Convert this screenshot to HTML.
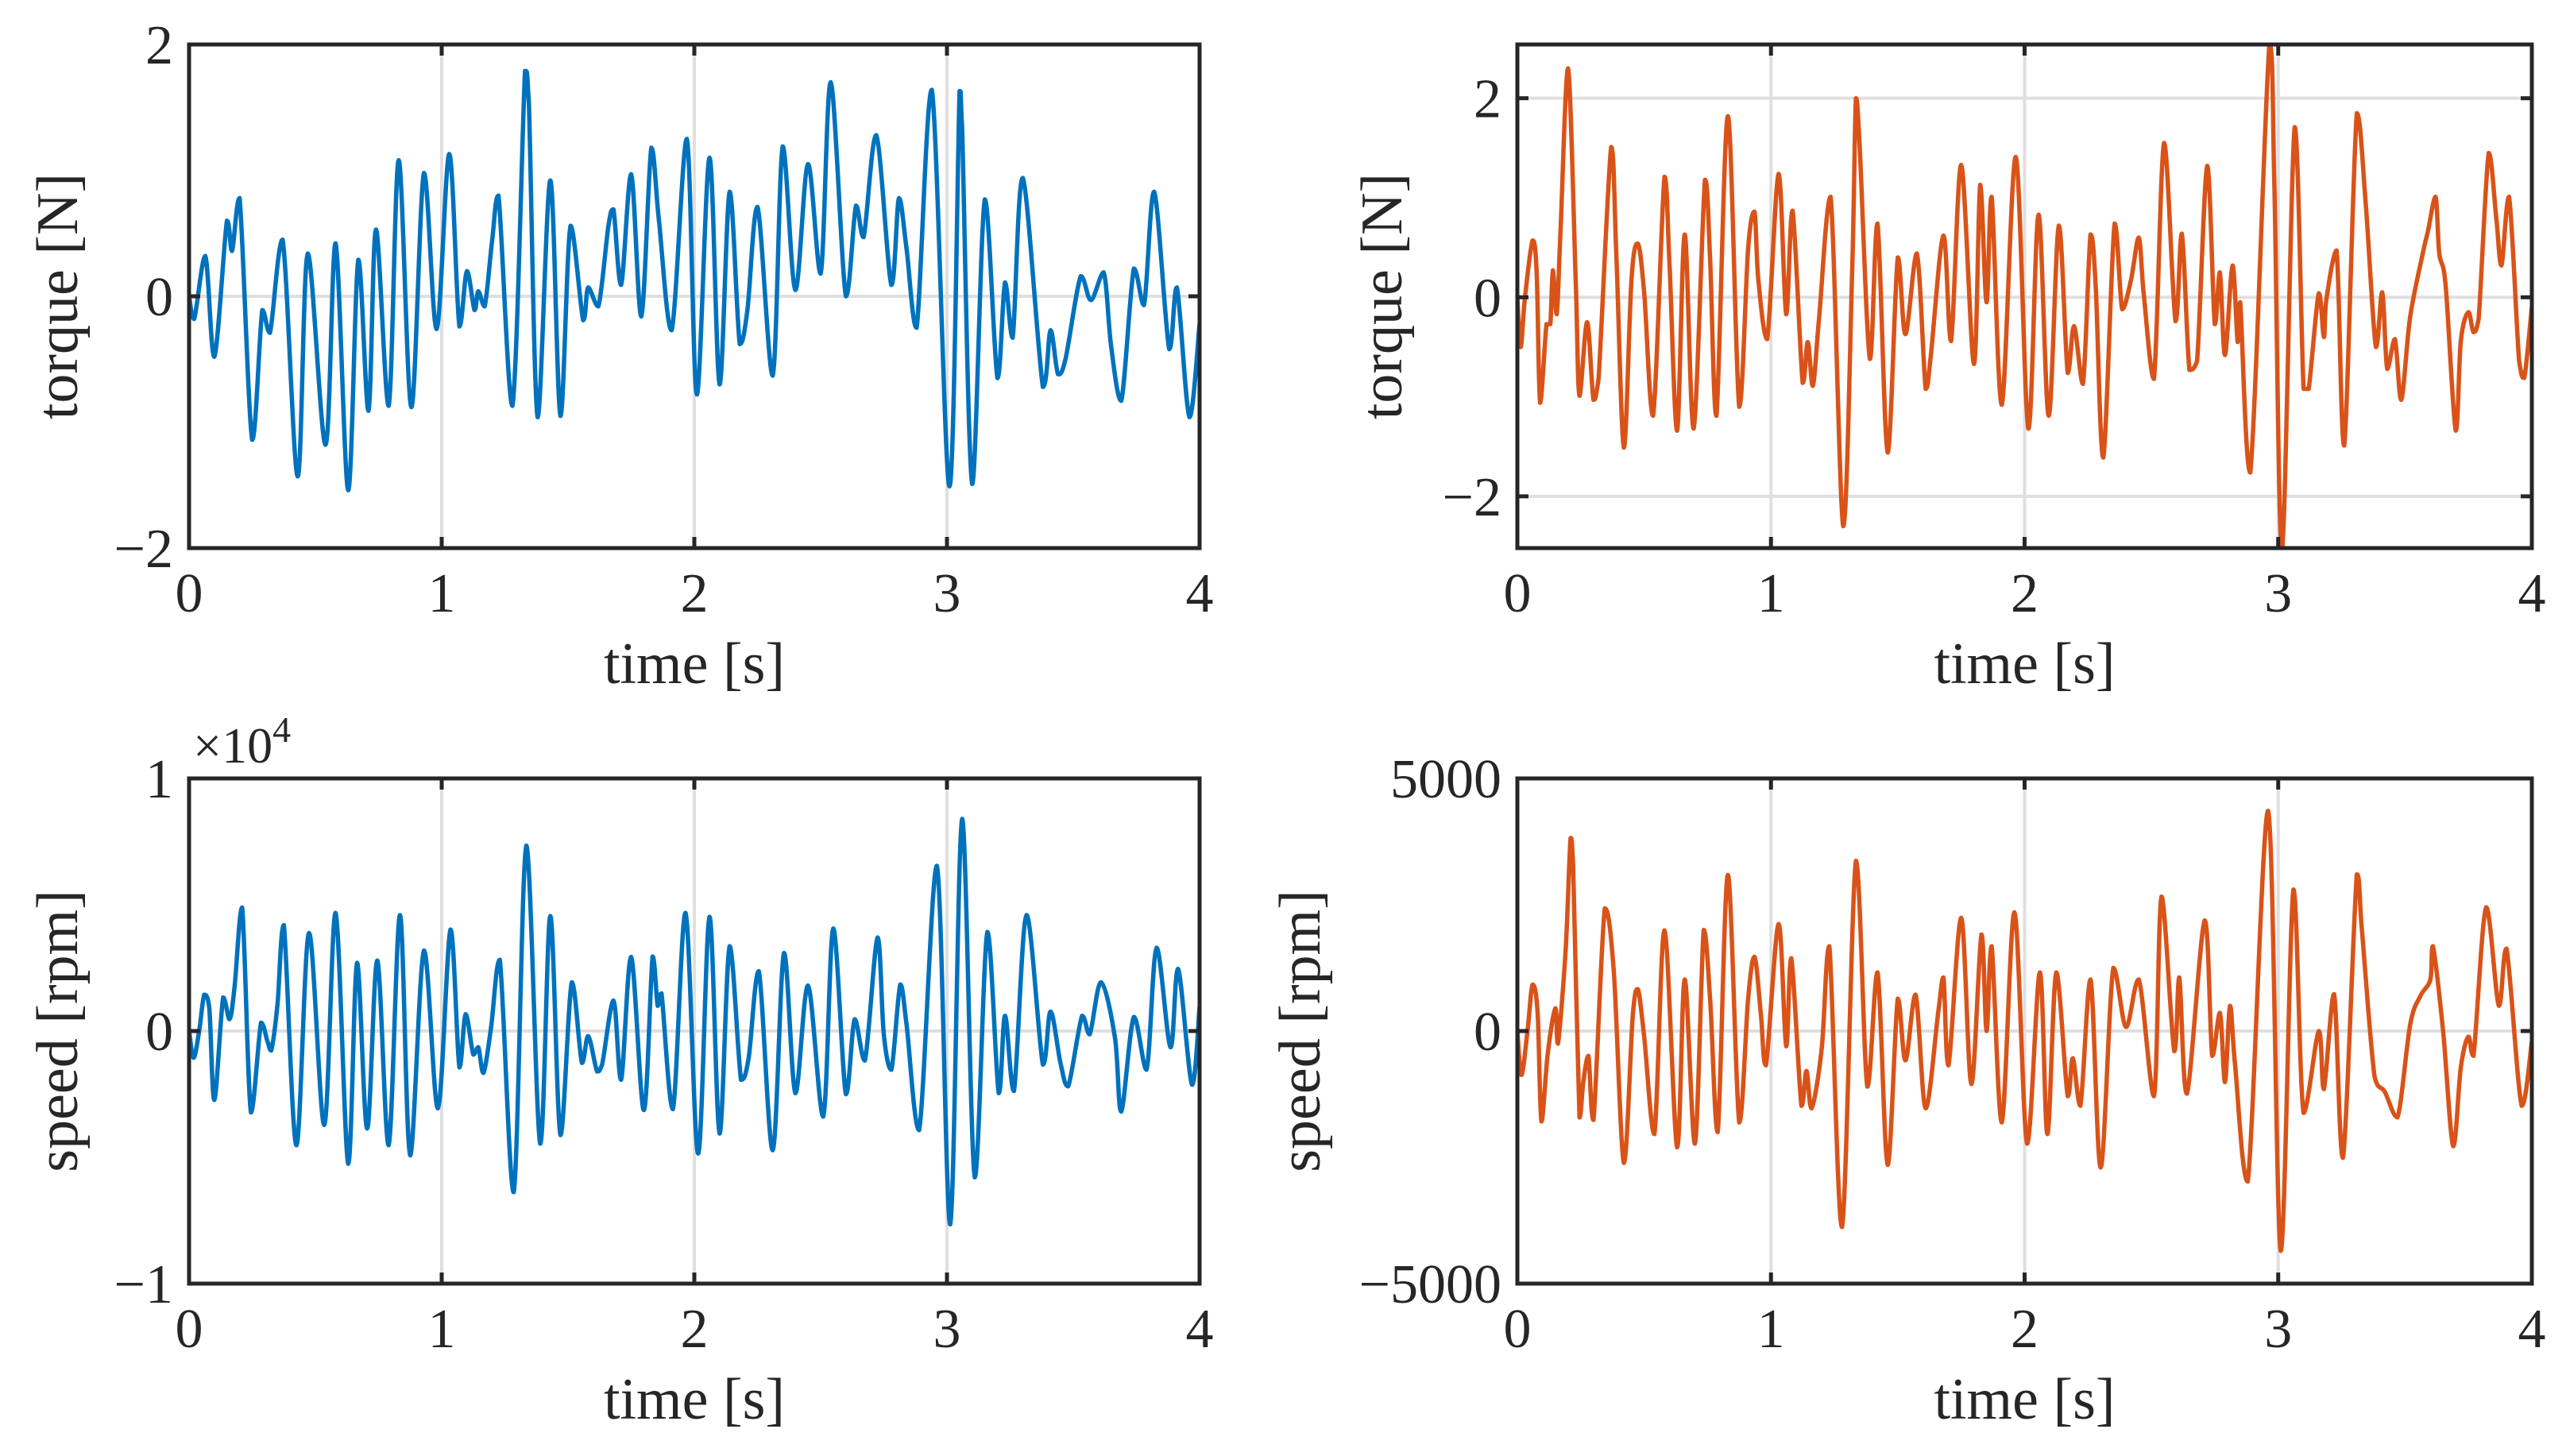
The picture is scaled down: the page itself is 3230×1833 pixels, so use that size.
<!DOCTYPE html>
<html><head><meta charset="utf-8"><style>
html,body{margin:0;padding:0;background:#fff;}
svg{display:block;font-family:"Liberation Serif",serif;}
</style></head><body>
<svg id="fig" width="3230" height="1833" viewBox="0 0 3230 1833" xmlns="http://www.w3.org/2000/svg"></svg>
<script>
// ---- data ----
const tlT=[0,.02,.064,.10,.15,.17,.20,.25,.29,.32,.37,.43,.47,.54,.58,.63,.67,.71,.74,.79,.83,.88,.93,.98,1.03,1.07,1.10,1.13,1.145,1.17,1.20,1.225,1.28,1.33,1.345,1.38,1.43,1.47,1.51,1.56,1.58,1.62,1.66,1.68,1.71,1.75,1.79,1.83,1.86,1.91,1.97,2.01,2.06,2.10,2.14,2.18,2.21,2.25,2.31,2.35,2.40,2.45,2.50,2.54,2.60,2.64,2.67,2.72,2.78,2.81,2.84,2.88,2.94,3.01,3.05,3.06,3.10,3.15,3.20,3.23,3.26,3.30,3.38,3.41,3.44,3.47,3.53,3.57,3.62,3.65,3.69,3.74,3.78,3.82,3.88,3.91,3.96,4.0];
const tlV=[0,-.18,.32,-.48,.6,.36,.78,-1.14,-.11,-.29,.45,-1.43,.34,-1.18,.42,-1.54,.29,-.91,.53,-.87,1.08,-.88,.98,-.26,1.13,-.24,.2,-.11,.04,-.08,.45,.8,-.87,1.79,1.54,-.96,.92,-.95,.56,-.19,.07,-.08,.56,.69,.09,.97,-.16,1.18,.6,-.27,1.25,-.78,1.1,-.7,.83,-.38,-.11,.71,-.63,1.19,.05,1.05,.18,1.70,0,.72,.47,1.28,.09,.78,.38,-.25,1.64,-1.51,1.63,1.34,-1.49,.77,-.65,.11,-.33,.94,-.72,-.27,-.62,-.49,.16,-.03,.19,-.4,-.83,.22,-.07,.83,-.42,.07,-.96,-.22];
const trT=[0,.013,.03,.06,.076,.09,.115,.13,.14,.155,.17,.2,.23,.245,.275,.30,.32,.37,.39,.42,.45,.475,.50,.535,.58,.60,.63,.66,.695,.74,.76,.785,.83,.875,.91,.935,.95,.985,1.03,1.06,1.085,1.125,1.145,1.165,1.19,1.235,1.285,1.32,1.335,1.35,1.39,1.42,1.46,1.50,1.53,1.575,1.61,1.63,1.68,1.71,1.75,1.80,1.825,1.85,1.87,1.91,1.965,2.015,2.055,2.095,2.135,2.17,2.195,2.23,2.26,2.28,2.31,2.355,2.385,2.42,2.45,2.47,2.51,2.55,2.595,2.62,2.65,2.68,2.72,2.75,2.77,2.79,2.82,2.84,2.85,2.89,2.965,2.985,3.015,3.065,3.10,3.12,3.16,3.18,3.19,3.23,3.26,3.31,3.345,3.385,3.41,3.43,3.46,3.485,3.52,3.57,3.59,3.62,3.635,3.66,3.70,3.72,3.75,3.77,3.79,3.83,3.86,3.88,3.91,3.95,3.97,4.0];
const trV=[0,-.5,0,.57,.25,-1.06,-.27,-.27,.27,-.17,.66,2.3,.18,-.99,-.25,-1.03,-.82,1.51,.45,-1.51,.18,.54,.05,-1.19,1.21,.32,-1.34,.63,-1.32,1.18,.39,-1.19,1.82,-1.10,.49,.86,.18,-.42,1.24,-.17,.87,-.86,-.45,-.89,-.2,1.01,-2.30,.25,2.0,1.5,-.62,.74,-1.56,.4,-.37,.44,-.92,-.59,.62,-.44,1.33,-.67,1.13,-.05,1.01,-1.08,1.41,-1.32,.83,-1.19,.72,-.76,-.29,-.87,.63,.13,-1.61,.74,-.12,.18,.6,.03,-.82,1.55,-.24,.64,-.73,-.64,1.32,-.27,.25,-.58,.32,-.45,-.05,-1.76,2.54,1.09,-2.54,1.71,-.92,-.92,.04,-.4,-.02,.47,-1.49,1.85,.94,-.5,.05,-.72,-.42,-1.03,-.2,.44,.66,1.01,.44,.12,-1.34,-.44,-.15,-.35,-.22,1.45,.79,.32,1.01,-.64,-.81,-.1];
const blT=[0,.018,.04,.06,.08,.10,.135,.16,.18,.21,.245,.285,.31,.325,.35,.375,.425,.475,.535,.58,.63,.665,.705,.745,.79,.835,.875,.93,.985,1.035,1.07,1.095,1.125,1.145,1.165,1.195,1.23,1.285,1.335,1.39,1.43,1.47,1.515,1.555,1.58,1.615,1.635,1.68,1.71,1.75,1.80,1.835,1.855,1.87,1.915,1.965,2.015,2.06,2.10,2.14,2.185,2.215,2.255,2.31,2.355,2.40,2.45,2.51,2.55,2.60,2.635,2.675,2.725,2.75,2.78,2.815,2.84,2.89,2.96,3.013,3.06,3.11,3.16,3.205,3.23,3.265,3.315,3.38,3.41,3.45,3.48,3.535,3.565,3.61,3.665,3.69,3.74,3.79,3.83,3.885,3.915,3.97,4.0];
const blV=[0,-1060,0,1440,930,-2730,1330,470,1730,4890,-3220,330,-400,-770,1060,4190,-4520,3880,-3720,4680,-5250,2700,-3860,2790,-4520,4590,-4920,3190,-3060,4020,-1440,670,-930,-640,-1660,110,2820,-6380,7340,-4460,4550,-4120,1930,-1260,-200,-1600,-1330,1200,-1930,2930,-3130,2950,1000,1490,-3090,4680,-4850,4520,-4060,3360,-1930,-1060,2370,-4720,3090,-2460,1800,-3390,4060,-2500,470,-1170,3700,-130,-1530,1840,270,-3920,6540,-7650,8400,-5790,3920,-2460,600,-2370,4590,-1330,770,-1300,-2190,600,-130,1930,-270,-3190,560,-1530,3300,-640,2460,-2130,960];
const brT=[0,.016,.04,.06,.08,.095,.12,.15,.16,.19,.21,.22,.245,.26,.28,.30,.345,.38,.42,.455,.475,.50,.54,.58,.63,.66,.70,.735,.76,.79,.83,.875,.91,.935,.96,.98,1.03,1.06,1.08,1.12,1.14,1.16,1.20,1.23,1.28,1.335,1.38,1.42,1.46,1.50,1.53,1.57,1.61,1.66,1.68,1.70,1.75,1.79,1.83,1.85,1.87,1.91,1.96,2.01,2.06,2.09,2.125,2.17,2.19,2.22,2.26,2.30,2.35,2.40,2.45,2.51,2.54,2.59,2.61,2.64,2.71,2.74,2.77,2.79,2.81,2.83,2.88,2.96,3.01,3.06,3.10,3.16,3.18,3.22,3.255,3.31,3.33,3.38,3.42,3.47,3.52,3.56,3.60,3.61,3.65,3.69,3.72,3.75,3.77,3.82,3.87,3.90,3.96,4.0];
const brV=[0,-870,0,920,360,-1790,-440,450,-250,1580,3820,3280,-1710,-1010,-490,-1760,2430,1200,-2610,310,830,-110,-2040,1990,-2300,1020,-2230,2000,640,-2000,3090,-1810,640,1470,340,-680,2120,-300,1440,-1480,-790,-1530,-350,1680,-3880,3370,-1100,1160,-2650,640,-580,720,-1530,400,1060,-680,2240,-1050,1910,0,1680,-1810,2350,-2230,1160,-2040,1160,-1290,-540,-1480,1020,-2700,1250,80,1020,-1290,2660,-400,1060,-1240,2190,-490,360,-1010,500,-680,-2980,4360,-4350,2800,-1620,0,-1150,730,-2510,3100,2000,-910,-1200,-1710,120,690,1020,1680,0,-2280,-720,-110,-490,2450,500,1630,-1480,-210];
const xTicks=[0,1,2,3,4];
const xTickLabels=["0","1","2","3","4"];
const tlYTicks=[-2,0,2], tlYLabels=["\u22122","0","2"];
const trYTicks=[-2,0,2], trYLabels=["\u22122","0","2"];
const blYTicks=[-10000,0,10000], blYLabels=["\u22121","0","1"];
const brYTicks=[-5000,0,5000], brYLabels=["\u22125000","0","5000"];

const NS="http://www.w3.org/2000/svg";
const svg=document.getElementById('fig');
function mk(tag,attrs,parent){const e=document.createElementNS(NS,tag);for(const k in attrs)e.setAttribute(k,attrs[k]);(parent||svg).appendChild(e);return e;}
function clampY(v,a,b){const lo=Math.min(a,b),hi=Math.max(a,b);return Math.max(lo,Math.min(hi,v));}

function panel(name,box,ylim,yTicks,yLabels,T,V,color,ylabel,ylabelX){
  const g=mk('g',{});
  
  
  const sx=t=>box.x0+(t-0)/(4-0)*(box.x1-box.x0);
  const sy=v=>box.y1-(v-ylim[0])/(ylim[1]-ylim[0])*(box.y1-box.y0);
  xTicks.forEach(t=>{if(t>0&&t<4){const l=mk('line',{x1:sx(t),x2:sx(t),y1:box.y0,y2:box.y1,stroke:'#dfdfdf','stroke-width':4},g);
    }});
  yTicks.forEach(v=>{const y=sy(v);if(y>box.y0+3&&y<box.y1-3){const l=mk('line',{x1:box.x0,x2:box.x1,y1:y,y2:y,stroke:'#dfdfdf','stroke-width':4},g);
    }});
  const P=T.map((t,i)=>[sx(t),sy(V[i])]);
  let d='M'+P[0][0].toFixed(1)+','+P[0][1].toFixed(1);
  for(let i=0;i<P.length-1;i++){const p0=P[Math.max(0,i-1)],p1=P[i],p2=P[i+1],p3=P[Math.min(P.length-1,i+2)];
    const c1=[p1[0]+(p2[0]-p0[0])/6,clampY(p1[1]+(p2[1]-p0[1])/6,p1[1],p2[1])],c2=[p2[0]-(p3[0]-p1[0])/6,clampY(p2[1]-(p3[1]-p1[1])/6,p1[1],p2[1])];
    d+=' C'+c1[0].toFixed(1)+','+c1[1].toFixed(1)+' '+c2[0].toFixed(1)+','+c2[1].toFixed(1)+' '+p2[0].toFixed(1)+','+p2[1].toFixed(1);}
  const cp=mk('clipPath',{id:name+'-clip'},g);mk('rect',{x:box.x0,y:box.y0,width:box.x1-box.x0,height:box.y1-box.y0},cp);
  const line=mk('path',{d:d,fill:'none',stroke:color,'stroke-width':5.5,'stroke-linejoin':'round','clip-path':'url(#'+name+'-clip)'},g);
  
  
  const fr=mk('rect',{x:box.x0,y:box.y0,width:box.x1-box.x0,height:box.y1-box.y0,fill:'none',stroke:'#262626','stroke-width':5},g);
  
  xTicks.forEach((t,i)=>{const x=sx(t);
    mk('line',{x1:x,x2:x,y1:box.y1,y2:box.y1-14,stroke:'#262626','stroke-width':5},g);
    mk('line',{x1:x,x2:x,y1:box.y0,y2:box.y0+14,stroke:'#262626','stroke-width':5},g);
    const tx=mk('text',{x:x,y:box.y1+80,'text-anchor':'middle','font-size':70,fill:'#262626'},g);tx.textContent=xTickLabels[i];
    });
  yTicks.forEach((v,i)=>{const y=sy(v);
    mk('line',{x1:box.x0,x2:box.x0+14,y1:y,y2:y,stroke:'#262626','stroke-width':5},g);
    mk('line',{x1:box.x1,x2:box.x1-14,y1:y,y2:y,stroke:'#262626','stroke-width':5},g);
    const tx=mk('text',{x:box.x0-20,y:y+24,'text-anchor':'end','font-size':70,fill:'#262626'},g);tx.textContent=yLabels[i];
    });
  const xl=mk('text',{x:(box.x0+box.x1)/2,y:box.y1+170,'text-anchor':'middle','font-size':74,fill:'#262626'},g);xl.textContent='time [s]';
  
  const cy=(box.y0+box.y1)/2;
  const yl=mk('text',{x:ylabelX,y:cy,'text-anchor':'middle','font-size':74,fill:'#262626',transform:'rotate(-90 '+ylabelX+' '+cy+')'},g);yl.textContent=ylabel;
  
}
panel('torque-left',{x0:238,x1:1510,y0:56,y1:690},[-2,2],tlYTicks,tlYLabels,tlT,tlV,'#0072BD','torque [N]',97);
panel('torque-right',{x0:1910,x1:3187,y0:56,y1:690},[-2.52,2.54],trYTicks,trYLabels,trT,trV,'#D95319','torque [N]',1764);
panel('speed-left',{x0:238,x1:1510,y0:980,y1:1616},[-10000,10000],blYTicks,blYLabels,blT,blV,'#0072BD','speed [rpm]',97);
panel('speed-right',{x0:1910,x1:3187,y0:980,y1:1616},[-5000,5000],brYTicks,brYLabels,brT,brV,'#D95319','speed [rpm]',1661);
const ex=mk('text',{x:243,y:960,'font-size':64,fill:'#262626'});


ex.textContent='\u00d710';
const sup=mk('tspan',{dy:-26,'font-size':46},ex);sup.textContent='4';
</script>
</body></html>
